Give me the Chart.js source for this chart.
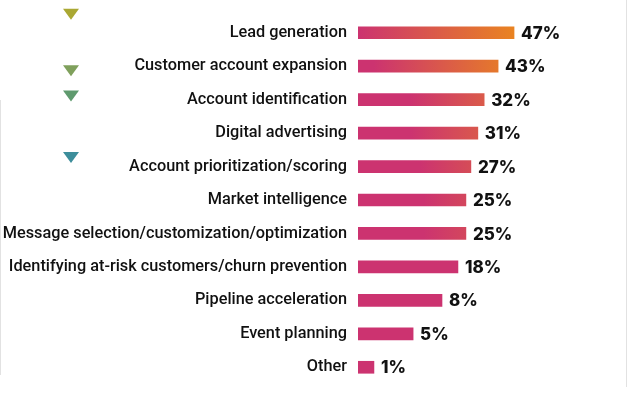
<!DOCTYPE html>
<html>
<head>
<meta charset="utf-8">
<script src="https://cdn.jsdelivr.net/npm/chart.js@4"></script>
<style>
  html, body { margin: 0; padding: 0; background: #fff; }
  #wrap { width: 627px; height: 401px; position: relative; }
</style>
</head>
<body>
<div id="wrap"><canvas id="myChart"></canvas></div>
<script>
const categories = [
  'Lead generation',
  'Customer account expansion',
  'Account identification',
  'Digital advertising',
  'Account prioritization/scoring',
  'Market intelligence',
  'Message selection/customization/optimization',
  'Identifying at-risk customers/churn prevention',
  'Pipeline acceleration',
  'Event planning',
  'Other'
];

// printed percentages
const shares = [47, 43, 32, 31, 27, 25, 25, 18, 8, 5, 1];

// bar extents as drawn in the picture (not proportional to the printed shares)
const barValues = [47, 42.2, 38, 36.1, 34, 32.5, 32.5, 30.1, 25.3, 16.6, 4.8];

// the little triangles at the left, position in category rows
const markerRows = [-0.55, 1.14, 1.89, 3.73];
const markerColors = ['#aaa833', '#7fa05c', '#5f9a6e', '#3d8e9b'];

const PINK = [204, 51, 112];
const ORANGE = [233, 131, 33];

function mix(a, b, t) {
  return 'rgb(' + a.map((v, i) => Math.round(v + (b[i] - v) * t)).join(',') + ')';
}

function barFill(context) {
  const chart = context.chart;
  const xs = chart.scales && chart.scales.x;
  const pink = mix(PINK, PINK, 0);
  if (!xs || !chart.chartArea) return pink;
  const i = context.dataIndex;
  const x0 = xs.getPixelForValue(0);
  const x1 = xs.getPixelForValue(barValues[i]);
  if (!isFinite(x0) || !isFinite(x1) || x1 - x0 < 1) return pink;
  const t = Math.max(0, Math.min(1, (shares[i] - 18) / (47 - 18)));
  const g = chart.ctx.createLinearGradient(x0, 0, x1, 0);
  g.addColorStop(0, pink);
  g.addColorStop(Math.min(0.99, (1 - t) * 0.8), pink);
  g.addColorStop(1, mix(PINK, ORANGE, t));
  return g;
}

const valueLabels = {
  id: 'valueLabels',
  afterDatasetsDraw(chart) {
    const ctx = chart.ctx;
    ctx.save();
    ctx.font = '800 17px Inter';
    ctx.fillStyle = '#111';
    ctx.textAlign = 'left';
    ctx.textBaseline = 'middle';
    chart.getDatasetMeta(0).data.forEach((bar, i) => {
      ctx.fillText(shares[i] + '%', bar.x + 7, bar.y + 1);
    });
    ctx.restore();
  }
};

// triangles at the left plus the faint frame edges
const markers = {
  id: 'markers',
  afterDraw(chart) {
    const ctx = chart.ctx;
    const y = chart.scales.y;
    ctx.save();
    markerRows.forEach((r, i) => {
      const cy = y.getPixelForValue(r);
      const cx = 71;
      ctx.fillStyle = markerColors[i];
      ctx.beginPath();
      ctx.moveTo(cx - 8, cy - 5.5);
      ctx.lineTo(cx + 8, cy - 5.5);
      ctx.lineTo(cx, cy + 5.5);
      ctx.closePath();
      ctx.fill();
    });
    ctx.strokeStyle = '#e2e2e2';
    ctx.lineWidth = 1;
    ctx.beginPath();
    ctx.moveTo(626.5, 0);
    ctx.lineTo(626.5, 387);
    ctx.moveTo(0.5, 100);
    ctx.lineTo(0.5, 375);
    ctx.stroke();
    ctx.restore();
  }
};

const ctx = document.getElementById('myChart');

const data = {
  labels: categories,
  datasets: [{
    data: barValues,
    backgroundColor: barFill,
    borderWidth: 0,
    barThickness: 12
  }]
};

const config = {
  type: 'bar',
  data: data,
  options: {
    indexAxis: 'y',
    responsive: true,
    maintainAspectRatio: false,
    animation: false,
    layout: { padding: { top: 16, bottom: 17, left: 0, right: 20 } },
    plugins: {
      legend: { display: false },
      tooltip: { enabled: false }
    },
    scales: {
      x: {
        display: false,
        min: 0,
        max: 75
      },
      y: {
        afterFit(scale) {
          scale.width = 358;
          scale.paddingTop = 0;
          scale.paddingBottom = 0;
        },
        border: { display: false },
        grid: { display: false, drawTicks: false },
        ticks: {
          padding: 11,
          color: '#111',
          font: { family: 'Roboto', size: 16.3, weight: '500' }
        }
      }
    }
  },
  plugins: [valueLabels, markers]
};

const myChart = new Chart(ctx, config);
</script>
</body>
</html>
